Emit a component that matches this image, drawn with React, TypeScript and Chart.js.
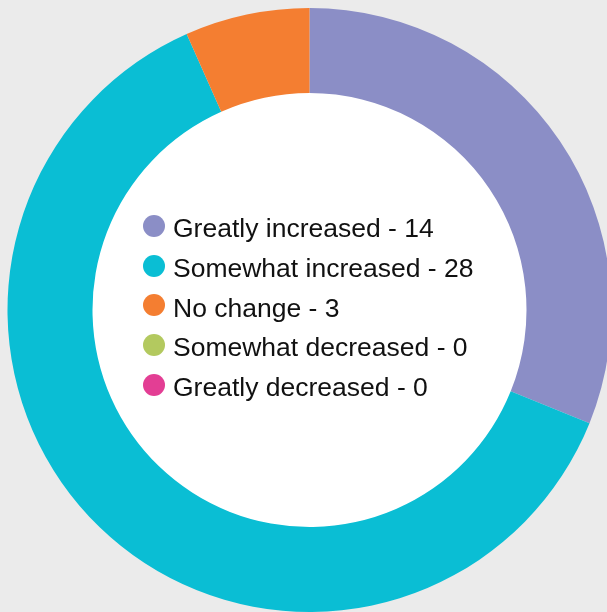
import React, { useEffect, useRef } from "react";
import { Chart, registerables } from "chart.js";

Chart.register(...registerables);

const categories = [
  "Greatly increased",
  "Somewhat increased",
  "No change",
  "Somewhat decreased",
  "Greatly decreased",
];
const counts = [14, 28, 3, 0, 0];
const colors = ["#8b8ec6", "#0abed4", "#f47e31", "#b3c95f", "#e33e94"];

const holeFill = {
  id: "holeFill",
  beforeDatasetsDraw(chart: any) {
    const arc = chart.getDatasetMeta(0).data[0];
    if (!arc) return;
    const { x, y, innerRadius } = arc as any;
    const ctx = chart.ctx;
    ctx.save();
    ctx.beginPath();
    ctx.arc(x, y, innerRadius + 0.5, 0, Math.PI * 2);
    ctx.fillStyle = "#ffffff";
    ctx.fill();
    ctx.restore();
  },
};

export default function App() {
  const canvasRef = useRef<HTMLCanvasElement | null>(null);

  useEffect(() => {
    const canvas = canvasRef.current;
    if (!canvas) return;
    const chart = new Chart(canvas, {
      type: "doughnut",
      data: {
        labels: categories,
        datasets: [
          {
            data: counts,
            backgroundColor: colors,
            borderWidth: 0,
            hoverOffset: 0,
          },
        ],
      },
      options: {
        animation: false,
        responsive: false,
        cutout: 217,
        layout: { padding: 7.5 },
        plugins: {
          legend: { display: false },
          tooltip: { enabled: false },
        },
      },
      plugins: [holeFill],
    });
    return () => chart.destroy();
  }, []);

  return (
    <div
      style={{
        position: "absolute",
        left: 0,
        top: 0,
        width: 607,
        height: 612,
        overflow: "hidden",
        background: "#ebebeb",
      }}
    >
      <canvas
        ref={canvasRef}
        width={619}
        height={620}
        style={{ position: "absolute", left: 0, top: 0, width: 619, height: 620 }}
      />
      <div
        style={{
          position: "absolute",
          left: 143,
          top: 206,
          fontFamily: "'Liberation Sans', Arial, sans-serif",
          fontSize: 26.5,
          color: "#111",
        }}
      >
        {categories.map((c, i) => (
          <div
            key={c}
            style={{
              display: "flex",
              alignItems: "center",
              height: 39.7,
              whiteSpace: "nowrap",
            }}
          >
            <span
              style={{
                display: "inline-block",
                width: 22,
                height: 22,
                borderRadius: "50%",
                background: colors[i],
                marginRight: 8,
                flex: "none",
              }}
            />
            <span style={{ position: "relative", top: 3 }}>{`${c} - ${counts[i]}`}</span>
          </div>
        ))}
      </div>
    </div>
  );
}
